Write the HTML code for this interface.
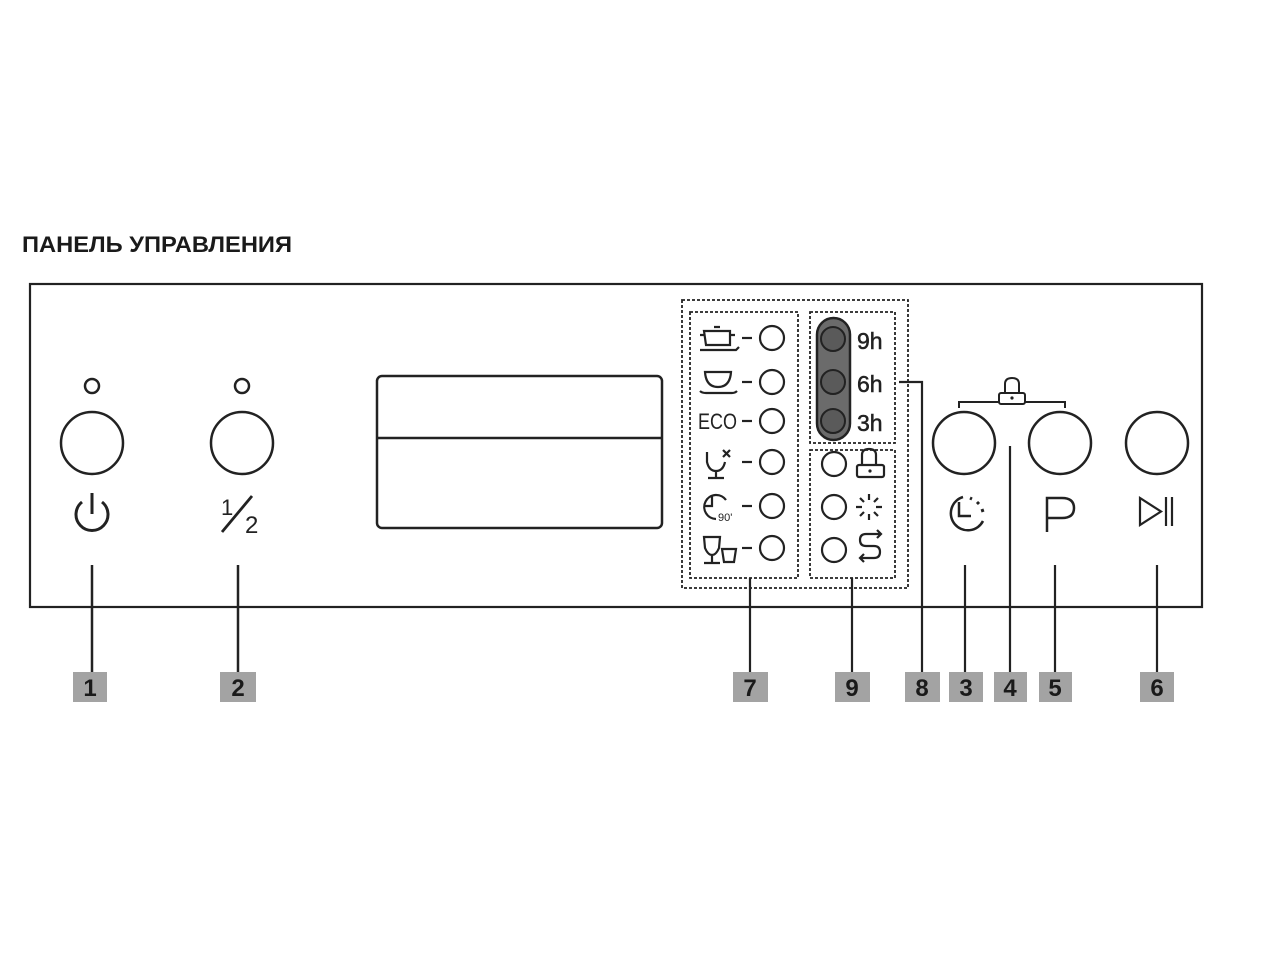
<!DOCTYPE html>
<html><head><meta charset="utf-8"><style>
html,body{margin:0;padding:0;background:#fff;width:1280px;height:960px;overflow:hidden}
svg{display:block}
text{font-family:"Liberation Sans",sans-serif}
</style></head><body>
<svg width="1280" height="960" viewBox="0 0 1280 960" xmlns="http://www.w3.org/2000/svg">
<text x="22" y="252" font-size="22" font-weight="bold" fill="#1a1a1a" textLength="270" lengthAdjust="spacingAndGlyphs">ПАНЕЛЬ УПРАВЛЕНИЯ</text>
<rect x="30" y="284" width="1172" height="323" fill="none" stroke="#222" stroke-width="2.2"/>
<g fill="none" stroke="#222" stroke-width="2.5">
<circle cx="92" cy="386" r="7"/>
<circle cx="92" cy="443" r="31"/>
<path d="M82 502 A16 16 0 1 0 102 502" stroke-width="3"/>
<line x1="92" y1="493" x2="92" y2="514" stroke-width="3"/>
<line x1="92" y1="565" x2="92" y2="672"/>
<circle cx="242" cy="386" r="7"/>
<circle cx="242" cy="443" r="31"/>
<line x1="222" y1="532" x2="252" y2="496" stroke-width="2.8"/>
<line x1="238" y1="565" x2="238" y2="672"/>
<rect x="377" y="376" width="285" height="152" rx="5"/>
<line x1="377" y1="438" x2="662" y2="438"/>
</g>
<text x="221" y="515" font-size="22" fill="#222">1</text>
<text x="245" y="533" font-size="24" fill="#222">2</text>
<g fill="none" stroke="#222" stroke-width="1.8" stroke-dasharray="3,2">
<rect x="682" y="300" width="226" height="288"/>
<rect x="690" y="312" width="108" height="266"/>
<rect x="810" y="312" width="85" height="131"/>
<rect x="810" y="450" width="85" height="128"/>
</g>
<g fill="none" stroke="#222" stroke-width="2.2">
<circle cx="772" cy="338" r="12"/><circle cx="772" cy="382" r="12"/><circle cx="772" cy="421" r="12"/>
<circle cx="772" cy="462" r="12"/><circle cx="772" cy="506" r="12"/><circle cx="772" cy="548" r="12"/>
<line x1="742" y1="338" x2="752" y2="338"/><line x1="742" y1="382" x2="752" y2="382"/><line x1="742" y1="421" x2="752" y2="421"/>
<line x1="742" y1="462" x2="752" y2="462"/><line x1="742" y1="506" x2="752" y2="506"/><line x1="742" y1="548" x2="752" y2="548"/>
<path d="M704 331 L730 331 L730 345 L706 345 Z M700 335 L704 335 M730 335 L735 335 M714 327 L720 327"/>
<path d="M700 350 L736 350 L739 347"/>
<path d="M705 372 L731 372 Q730 387 718 387 Q706 387 705 372 Z"/>
<path d="M700 391 Q702 393 706 393 L732 393 Q735 393 737 391"/>
<path d="M707 452 L707 462 Q709 471 716 471 Q723 471 725 462 M716 471 L716 478 M708 478 L724 478"/>
<path d="M723 450 L730 457 M730 450 L723 457"/>
<path d="M716 519 A12 12 0 1 1 726 500"/>
<path d="M712 496 L712 506 L704 506"/>
<path d="M704 537 L720 537 L719 548 Q716 555 712 555 Q708 555 705 548 Z M712 555 L712 563 M704 563 L720 563"/>
<path d="M722 549 L736 549 L734 562 L724 562 Z"/>
</g>
<text x="698" y="429" font-size="22" fill="#222" textLength="39" lengthAdjust="spacingAndGlyphs">ECO</text>
<text x="718" y="521" font-size="11" fill="#222">90'</text>
<rect x="817" y="318" width="33" height="122" rx="16.5" fill="#6b6b6b" stroke="#222" stroke-width="2.5"/>
<g fill="#5a5a5a" stroke="#222" stroke-width="2">
<circle cx="833" cy="339" r="12"/><circle cx="833" cy="382" r="12"/><circle cx="833" cy="421" r="12"/>
</g>
<g font-size="23" fill="#222" stroke="#222" stroke-width="0.5">
<text x="857" y="349">9h</text>
<text x="857" y="392">6h</text>
<text x="857" y="431">3h</text>
</g>
<g fill="none" stroke="#222" stroke-width="2.2">
<circle cx="834" cy="464" r="12"/><circle cx="834" cy="507" r="12"/><circle cx="834" cy="550" r="12"/>
<path d="M862 465 L862 455 Q862 449 869 449 Q876 449 876 455 L876 465"/>
<rect x="857" y="465" width="27" height="12" rx="2"/>
<path d="M869 494 L869 500 M869 514 L869 520 M856 507 L862 507 M876 507 L882 507 M860 498 L864 502 M874 512 L878 516 M878 498 L874 502 M860 516 L864 512" />
<path d="M881 534 L866 534 Q860 534 860 540 Q860 546 866 546 L874 546 Q880 546 880 552 Q880 558 874 558 L860 558 M877 530 L881 534 L877 538 M864 554 L860 558 L864 562"/>
<line x1="750" y1="578" x2="750" y2="672"/>
<line x1="852" y1="578" x2="852" y2="672"/>
<polyline points="899,382 922,382 922,672"/>
</g>
<g fill="none" stroke="#222" stroke-width="2.5">
<circle cx="964" cy="443" r="31"/>
<circle cx="1060" cy="443" r="31"/>
<circle cx="1157" cy="443" r="31"/>
<path d="M959 408 L959 402 L999 402 M1025 402 L1065 402 L1065 408" stroke-width="2"/>
<path d="M1005 393 L1005 384 Q1005 378 1012 378 Q1019 378 1019 384 L1019 393" stroke-width="2"/>
<rect x="999" y="393" width="26" height="11" rx="2" stroke-width="2"/>
<line x1="1010" y1="446" x2="1010" y2="672" stroke-width="2.2"/>
<path d="M963 497 A17 17 0 1 0 983 521"/>
<path d="M959 502 L959 516 L971 516"/>
<path d="M970 498 L972 499 M977 502 L979 504 M982 509 L983 512" stroke-width="3"/>
<path d="M1047 532 L1047 498 L1062 498 Q1074 498 1074 508 Q1074 518 1062 518 L1047 518"/>
<path d="M1140 498 L1140 525 L1161 511.5 Z" stroke-width="2.2"/>
<line x1="1166" y1="497" x2="1166" y2="526" stroke-width="2.2"/><line x1="1172" y1="497" x2="1172" y2="526" stroke-width="2.2"/>
<line x1="965" y1="565" x2="965" y2="672" stroke-width="2.2"/>
<line x1="1055" y1="565" x2="1055" y2="672" stroke-width="2.2"/>
<line x1="1157" y1="565" x2="1157" y2="672" stroke-width="2.2"/>
</g>
<circle cx="1012" cy="398" r="1.6" fill="#222"/>
<circle cx="870" cy="471" r="1.6" fill="#222"/>
<g fill="#a3a3a3">
<rect x="73" y="672" width="34" height="30"/>
<rect x="220" y="672" width="36" height="30"/>
<rect x="733" y="672" width="35" height="30"/>
<rect x="835" y="672" width="35" height="30"/>
<rect x="905" y="672" width="35" height="30"/>
<rect x="949" y="672" width="34" height="30"/>
<rect x="994" y="672" width="33" height="30"/>
<rect x="1039" y="672" width="33" height="30"/>
<rect x="1140" y="672" width="34" height="30"/>
</g>
<g font-size="24" font-weight="bold" fill="#1a1a1a" text-anchor="middle">
<text x="90" y="696">1</text><text x="238" y="696">2</text><text x="750" y="696">7</text>
<text x="852" y="696">9</text><text x="922" y="696">8</text><text x="966" y="696">3</text>
<text x="1010" y="696">4</text><text x="1055" y="696">5</text><text x="1157" y="696">6</text>
</g>
</svg>
</body></html>
